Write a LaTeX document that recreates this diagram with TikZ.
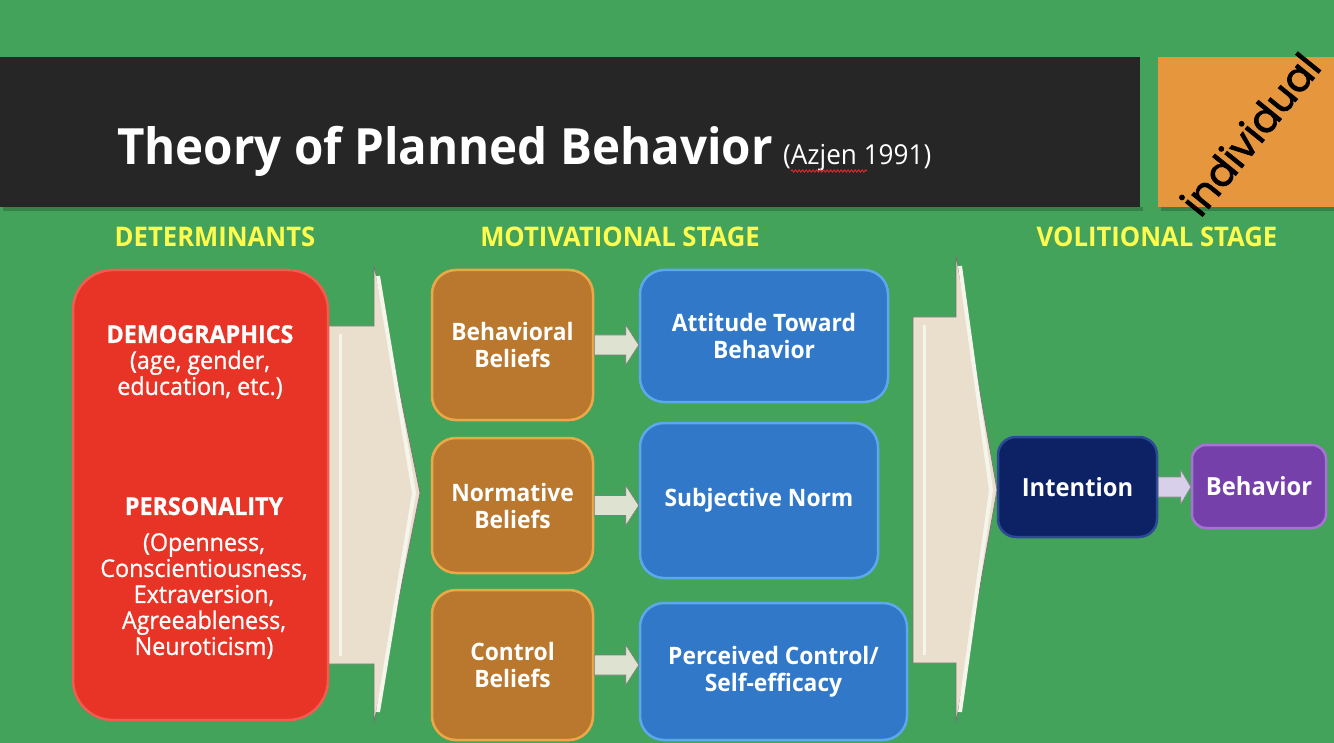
\documentclass[tikz,border=0pt]{standalone}
\usepackage{fontspec}
\setmainfont[FakeStretch=0.95]{Open Sans}
\newfontfamily\indfont[FakeBold=2]{Poppins}
\newfontfamily\redfont[FakeStretch=0.95,FakeBold=0.8]{Open Sans}
\usetikzlibrary{calc,decorations.pathmorphing}
\definecolor{bg}{RGB}{68,163,90}
\definecolor{banner}{RGB}{38,38,38}
\definecolor{orangef}{RGB}{230,150,60}
\definecolor{headyellow}{RGB}{255,252,80}
\definecolor{redf}{RGB}{232,52,38}
\definecolor{redl}{RGB}{242,92,80}
\definecolor{beige}{RGB}{234,222,204}
\definecolor{beigel}{RGB}{244,246,236}
\definecolor{brownf}{RGB}{185,120,45}
\definecolor{brownl}{RGB}{236,168,72}
\definecolor{bluef}{RGB}{50,120,200}
\definecolor{bluel}{RGB}{92,168,236}
\definecolor{navyf}{RGB}{12,34,100}
\definecolor{navyl}{RGB}{44,74,150}
\definecolor{purplef}{RGB}{118,64,170}
\definecolor{purplel}{RGB}{165,115,212}
\definecolor{sarrow}{RGB}{222,226,208}
\definecolor{larrow}{RGB}{216,208,234}
\newcommand\flowarrow[6]{%
  \filldraw[#6] ($(#1.east)+(0,-#3)$) -- ($(#1.east -| #2.west)+(-#5,-#3)$)
    -- ($(#1.east -| #2.west)+(-#5,-#4)$) -- (#1.east -| #2.west)
    -- ($(#1.east -| #2.west)+(-#5,#4)$) -- ($(#1.east -| #2.west)+(-#5,#3)$)
    -- ($(#1.east)+(0,#3)$) -- cycle;}
\begin{document}
\begin{tikzpicture}[x=1pt,y=-1pt,
  basebox/.style={inner sep=0pt, align=center, text=white, line width=2.5pt,
    font=\fontsize{24}{27}\selectfont\bfseries},
  redbox/.style={basebox, fill=redf, draw=redl, rounded corners=40pt},
  brownbox/.style={basebox, fill=brownf, draw=brownl, rounded corners=24pt},
  bluebox/.style={basebox, fill=bluef, draw=bluel, rounded corners=24pt},
  navybox/.style={basebox, fill=navyf, draw=navyl, rounded corners=18pt,
    font=\fontsize{25}{28}\selectfont\bfseries},
  purplebox/.style={basebox, fill=purplef, draw=purplel, rounded corners=14pt,
    font=\fontsize{25}{28}\selectfont\bfseries},
  heading/.style={text=headyellow, inner sep=0pt, font=\fontsize{27}{30}\selectfont\bfseries},
  redtext/.style={text=white, align=center, inner sep=0pt, font=\redfont\fontsize{24.5}{26}\selectfont},
  bigarrow/.style={fill=beige, draw=black!55, line width=0.7pt},
  arrowlight/.style={draw=beigel, line width=4pt},
  smallarr/.style={fill=sarrow, draw=black!50, line width=0.6pt},
  lavarr/.style={fill=larrow, draw=black!45, line width=0.6pt}]
\useasboundingbox (0,0) rectangle (1334,743);
\fill[bg] (0,0) rectangle (1334,743);
% banner
\fill[black, opacity=0.2] (3,207) rectangle (1143,211);
\fill[banner] (0,57) rectangle (1140,207);
\fill[black, opacity=0.2] (1161,207) rectangle (1334,211);
\fill[orangef] (1158,57) rectangle (1334,207);
\node[anchor=base west, inner sep=0pt, text=white, font=\fontsize{50}{56}\selectfont\bfseries] (title) at (117,165) {Theory of Planned Behavior};
\node[anchor=base west, inner sep=0pt, text=white, font=\fontsize{27.5}{30}\selectfont] (cit) at (783,165) {(Azjen 1991)};
\draw[red!85!white, line width=0.8pt, decorate, decoration={snake, amplitude=1.2pt, segment length=3.5pt}] ($(cit.base west)+(8,6)$) -- ($(cit.base west)+(84,6)$);
\node[rotate=51, inner sep=0pt, text=black, font=\indfont\fontsize{40}{40}\selectfont] (ind) at (1250,134) {individual};
% headings
\node[heading] (hdet) at (215,237) {DETERMINANTS};
\node[heading] (hmot) at (620,237) {MOTIVATIONAL STAGE};
\node[heading] (hvol) at (1157,237) {VOLITIONAL STAGE};
% big arrows
\filldraw[bigarrow] (328,326) -- (374,326) -- (374,265) -- (420,493) -- (374,723) -- (374,664) -- (328,664) -- cycle;
\draw[arrowlight] (378,276) -- (414,493) -- (378,712);
\draw[draw=beigel, line width=3pt] (340,334) -- (340,656);
\filldraw[bigarrow] (913,317) -- (956,317) -- (956,255) -- (997,490) -- (956,723) -- (956,663) -- (913,663) -- cycle;
\draw[arrowlight] (960,266) -- (991,490) -- (960,712);
\draw[draw=beigel, line width=3pt] (924,325) -- (924,655);
% determinants box
\node[redbox, minimum width=255pt, minimum height=450pt] (det) at (200.5,495) {};
\node[redtext] (demo) at (200,362) {\textbf{DEMOGRAPHICS}\\ (age, gender,\\ education, etc.)};
\node[redtext, anchor=north] (pers) at (204,497) {\textbf{PERSONALITY}\\[10pt] (Openness,\\ Conscientiousness,\\ Extraversion,\\ Agreeableness,\\ Neuroticism)};
% belief boxes
\node[brownbox, minimum width=161pt, minimum height=150pt] (bb) at (512.5,345) {Behavioral\\Beliefs};
\node[brownbox, minimum width=161pt, minimum height=135pt] (nb) at (512.5,505.5) {Normative\\Beliefs};
\node[brownbox, minimum width=161pt, minimum height=150pt] (cb) at (512.5,665) {Control\\Beliefs};
% construct boxes
\node[bluebox, minimum width=248pt, minimum height=132pt] (att) at (764,336) {Attitude Toward\\Behavior};
\node[bluebox, minimum width=238pt, minimum height=155pt] (sn) at (759,500.5) {Subjective Norm};
\node[bluebox, minimum width=267pt, minimum height=137pt] (pc) at (773.5,671.5) {Perceived Control/\\Self-efficacy};
% volitional boxes
\node[navybox, minimum width=159pt, minimum height=100pt] (int) at (1077.5,487) {Intention};
\node[purplebox, minimum width=134pt, minimum height=83pt] (beh) at (1259,486.5) {Behavior};
% small arrows
\flowarrow{bb}{att}{10}{20}{13}{smallarr}
\flowarrow{nb}{sn}{10}{20}{13}{smallarr}
\flowarrow{cb}{pc}{10}{20}{13}{smallarr}
\flowarrow{int}{beh}{10}{17}{10}{lavarr}
\end{tikzpicture}
\end{document}
